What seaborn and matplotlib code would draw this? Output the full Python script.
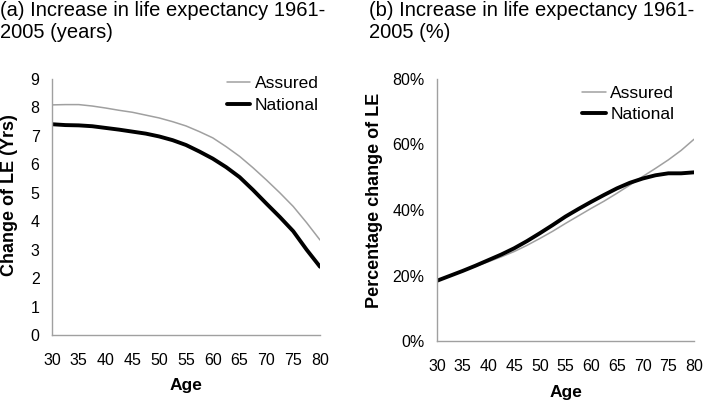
import numpy as np
import pandas as pd
import seaborn as sns
import matplotlib.pyplot as plt
from matplotlib.ticker import FuncFormatter

ages = [30, 32.5, 35, 37.5, 40, 42.5, 45, 47.5, 50, 52.5, 55, 57.5, 60,
        62.5, 65, 67.5, 70, 72.5, 75, 77.5, 80]

# (a) cambio en años
assured_yrs = [8.09, 8.10, 8.10, 8.05, 7.98, 7.90, 7.83, 7.73, 7.63, 7.50, 7.35,
               7.15, 6.93, 6.62, 6.28, 5.88, 5.45, 5.00, 4.52, 3.95, 3.34]
national_yrs = [7.41, 7.38, 7.37, 7.34, 7.28, 7.22, 7.15, 7.08, 6.98, 6.85, 6.68,
                6.45, 6.20, 5.90, 5.55, 5.10, 4.62, 4.15, 3.65, 3.00, 2.40]

# (b) cambio porcentual
assured_pct = [18.4, 19.9, 21.4, 22.8, 24.2, 25.7, 27.3, 29.2, 31.3, 33.5, 35.9,
               38.2, 40.5, 42.7, 45.1, 47.6, 50.2, 52.7, 55.3, 58.2, 61.6]
national_pct = [18.4, 19.9, 21.4, 23.0, 24.7, 26.4, 28.3, 30.5, 32.9, 35.4, 38.0,
                40.3, 42.5, 44.6, 46.6, 48.3, 49.6, 50.6, 51.2, 51.2, 51.5]

sns.set_style("white")
plt.rcParams['font.family'] = ['Liberation Sans', 'DejaVu Sans']
plt.rcParams['text.color'] = 'black'
plt.rcParams['axes.labelcolor'] = 'black'
plt.rcParams['xtick.labelcolor'] = 'black'
plt.rcParams['ytick.labelcolor'] = 'black'

df = pd.DataFrame({
    'Age': ages * 2,
    'yrs': assured_yrs + national_yrs,
    'pct': assured_pct + national_pct,
    'grupo': ['Assured'] * len(ages) + ['National'] * len(ages),
})

fig = plt.figure(figsize=(7.06, 4.04), dpi=100)
ax1 = fig.add_axes([52 / 706, 69 / 404, 268 / 706, 256 / 404])
ax2 = fig.add_axes([437 / 706, 63 / 404, 257 / 706, 262 / 404])

estilos = {'Assured': dict(color='#a0a0a0', linewidth=1.1),
           'National': dict(color='black', linewidth=2.8)}

for ax, col in [(ax1, 'yrs'), (ax2, 'pct')]:
    for g in ['Assured', 'National']:
        sub = df[df['grupo'] == g]
        sns.lineplot(data=sub, x='Age', y=col, ax=ax, label=g, **estilos[g])
    ax.set_xlim(30, 80)
    ax.set_xticks(range(30, 81, 5))
    for s in ['top', 'right']:
        ax.spines[s].set_visible(False)
    for s in ['left', 'bottom']:
        ax.spines[s].set_color('#a0a0a0')
        ax.spines[s].set_linewidth(1.0)
    ax.tick_params(axis='both', direction='out', length=4, width=1,
                   color='#a0a0a0', labelsize=11.5, pad=5)
    ax.tick_params(axis='x', pad=9)

ax1.set_xlabel('Age', fontsize=12.5, fontweight='bold', labelpad=7)
ax2.set_xlabel('Age', fontsize=12.5, fontweight='bold', labelpad=8)

ax1.legend(frameon=False, loc='upper right', fontsize=12.5, handlelength=1.3,
           handletextpad=0.3, labelspacing=0.38, borderaxespad=0.0,
           bbox_to_anchor=(1.022, 1.04))
ax2.legend(frameon=False, loc='upper right', fontsize=12.5, handlelength=1.4,
           handletextpad=0.25, labelspacing=0.32, borderaxespad=0.0,
           bbox_to_anchor=(0.95, 1.0))

ax1.set_ylim(0, 9)
ax1.set_yticks(range(0, 10))
ax1.set_ylabel('Change of LE (Yrs)', fontsize=13, fontweight='bold')
ax1.yaxis.set_label_coords(-0.125, 0.547)

ax2.set_ylim(0, 80)
ax2.set_yticks(range(0, 81, 20))
ax2.yaxis.set_major_formatter(FuncFormatter(lambda v, p: f'{v:.0f}%'))
ax2.set_ylabel('Percentage change of LE', fontsize=13, fontweight='bold')
ax2.yaxis.set_label_coords(-0.210, 0.538)

fig.text(0.0, 1 - 1 / 404, '(a) Increase in life expectancy 1961-\n2005 (years)',
         ha='left', va='top', fontsize=14.5, linespacing=1.2)
fig.text(369 / 706, 1 - 1 / 404, '(b) Increase in life expectancy 1961-\n2005 (%)',
         ha='left', va='top', fontsize=14.5, linespacing=1.2)

fig.savefig('out.png', dpi=100)
